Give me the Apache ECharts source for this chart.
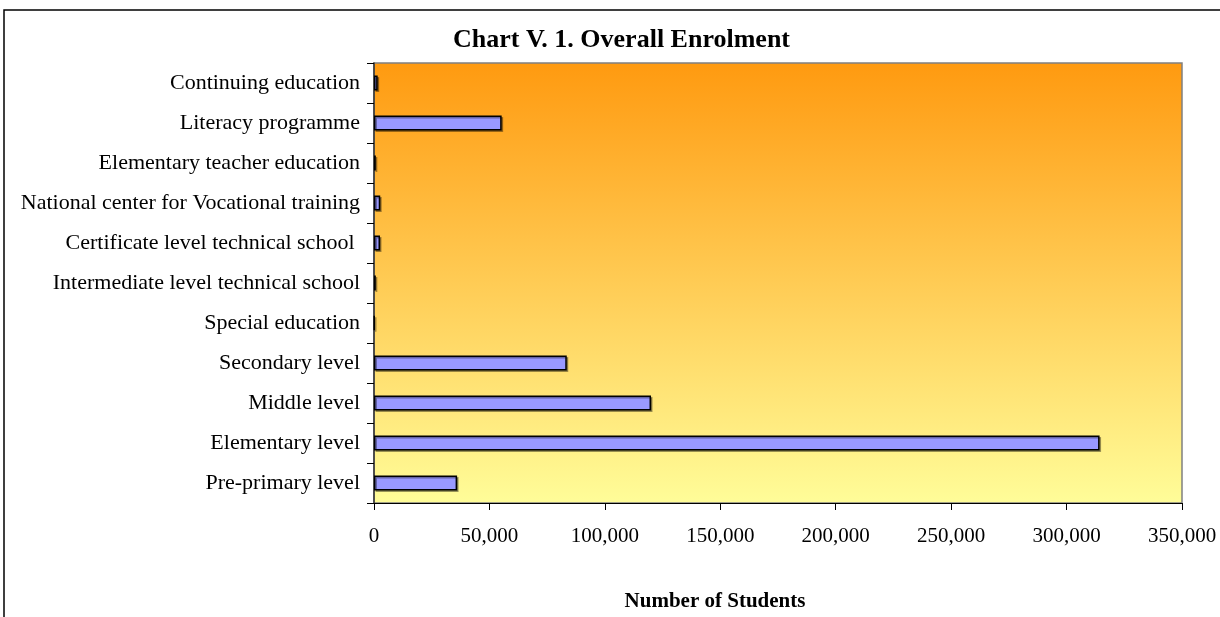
<!DOCTYPE html>
<html>
<head>
<meta charset="utf-8">
<script src="https://cdn.jsdelivr.net/npm/echarts@6/dist/echarts.min.js"></script>
<style>
html,body{margin:0;padding:0;background:#fff;}
#c{width:1220px;height:617px;}
</style>
</head>
<body>
<div id="c"></div>
<script>
const categories = [
  "Pre-primary level",
  "Elementary level",
  "Middle level",
  "Secondary level",
  "Special education",
  "Intermediate level technical school",
  "Certificate level technical school ",
  "National center for Vocational training",
  "Elementary teacher education",
  "Literacy programme",
  "Continuing education"
];
const students = [36000, 314300, 120000, 83500, 200, 800, 2600, 2700, 800, 55300, 1600];
const xTicks = [0, 50000, 100000, 150000, 200000, 250000, 300000, 350000];

const chart = echarts.init(document.getElementById('c'));
const serif = '"Liberation Serif", "Times New Roman", serif';
chart.setOption({
  animation: false,
  title: {
    text: 'Chart V. 1. Overall Enrolment',
    left: 453, top: 27, padding: 0,
    textStyle: {fontFamily: serif, fontWeight: 'bold', fontSize: 26, color: '#000'}
  },
  graphic: [{
    type: 'rect', shape: {x: 4, y: 10, width: 1400, height: 800},
    style: {fill: 'none', stroke: '#000', lineWidth: 1.5}, silent: true
  }],
  grid: {
    left: 374, top: 63, width: 808, height: 440,
    show: true, borderColor: '#808080', borderWidth: 1.5,
    backgroundColor: new echarts.graphic.LinearGradient(0, 0, 0, 1, [
      {offset: 0, color: '#FF9A10'},
      {offset: 1, color: '#FFFD99'}
    ])
  },
  xAxis: {
    type: 'value', min: xTicks[0], max: xTicks[xTicks.length - 1],
    interval: xTicks[1] - xTicks[0],
    name: 'Number of Students', nameLocation: 'middle', nameGap: 88,
    nameTextStyle: {fontFamily: serif, fontWeight: 'bold', fontSize: 21, color: '#000', padding: [0, 0, 0, -126]},
    axisLine: {show: true, lineStyle: {color: '#000', width: 1}},
    axisTick: {show: true, length: 7, inside: false, lineStyle: {color: '#000'}},
    splitLine: {show: false},
    axisLabel: {
      fontFamily: serif, fontSize: 21, color: '#000', margin: 23,
      formatter: v => v.toLocaleString('en-US')
    }
  },
  yAxis: {
    type: 'category', data: categories,
    axisLine: {show: true, lineStyle: {color: '#333', width: 1.5}},
    axisTick: {show: true, length: 7, lineStyle: {color: '#000'}},
    axisLabel: {fontFamily: serif, fontSize: 22, color: '#000', margin: 14}
  },
  series: [{
    type: 'bar', data: students, barWidth: 15,
    itemStyle: {
      color: '#9999FF', borderColor: '#000', borderWidth: 1.5,
      shadowColor: 'rgba(0,0,0,0.35)', shadowOffsetX: 1.5, shadowOffsetY: 1.5
    }
  }]
});
</script>
</body>
</html>
